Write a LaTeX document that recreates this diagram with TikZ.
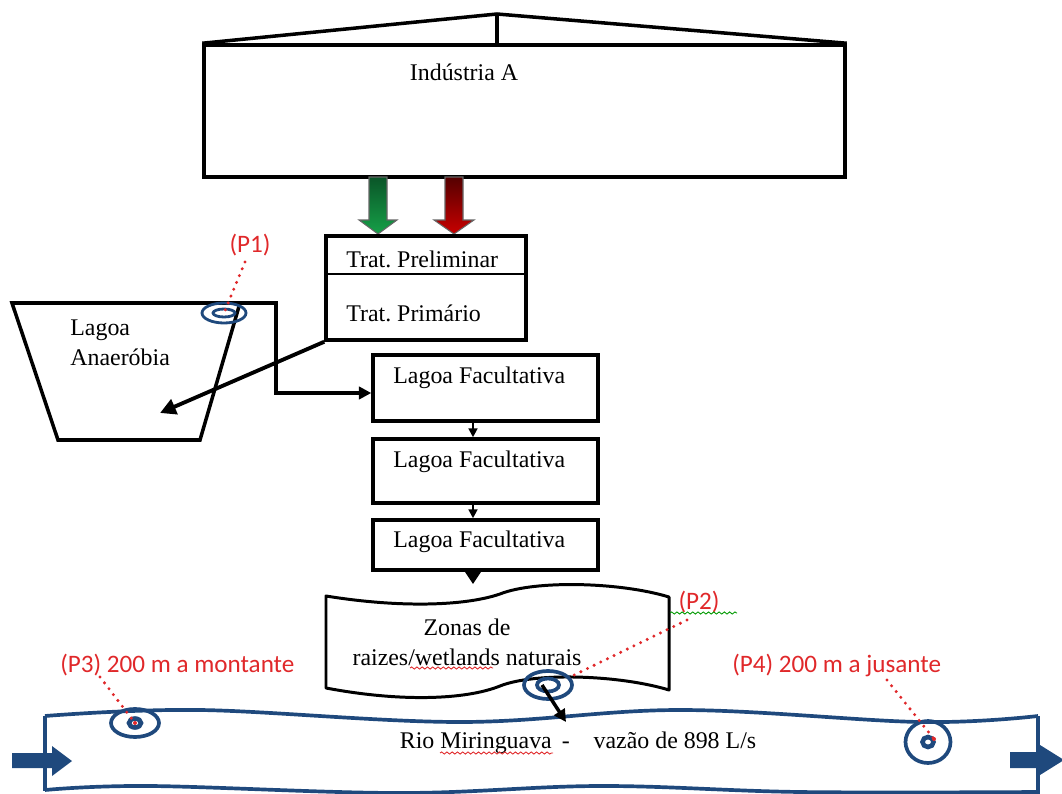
\documentclass[tikz,border=0pt]{standalone}
\usepackage{fontspec}
\setmainfont{Liberation Serif}
\newfontfamily\calib{Carlito}
\usetikzlibrary{shapes.geometric,arrows.meta,decorations.pathmorphing,calc}
\definecolor{rblue}{HTML}{1F497D}
\definecolor{pred}{HTML}{E0282A}
\definecolor{gtop}{RGB}{10,85,40}
\definecolor{gbot}{RGB}{22,160,72}
\definecolor{rtop}{RGB}{85,0,0}
\definecolor{rbot}{RGB}{200,0,0}
\frenchspacing
\begin{document}
\begin{tikzpicture}[x=0.02cm,y=-0.02cm,
  box/.style={draw,line width=2pt,inner sep=0pt,fill=white},
  txt/.style={inner sep=0pt,font=\fontsize{13.6}{17}\selectfont},
  ptxt/.style={inner sep=0pt,text=pred,font=\calib\fontsize{14.3}{17}\selectfont},
  target/.style={draw=rblue,ellipse,line width=2.1pt,inner sep=0pt},
  dotline/.style={pred,line width=1.9pt,dash pattern=on 0pt off 4.2pt,line cap=round},
  squig/.style={decorate,decoration={snake,amplitude=0.6pt,segment length=3pt},line width=0.5pt},
  flow/.style={line width=2pt,-{Triangle[length=7pt,width=7pt]}},
  small/.style={line width=1.1pt,-{Triangle[length=5pt,width=5pt]}}
]
\useasboundingbox (0,0) rectangle (1062,794);

% ---------- river ----------
\draw[rblue,line width=2.1pt] plot[smooth,tension=0.6] coordinates {(45,716) (200,710) (460,722) (680,710) (920,722) (1038,716)};
\draw[rblue,line width=2.1pt] plot[smooth,tension=0.6] coordinates {(45,790) (150,786) (400,793) (600,786) (800,792) (1038,792)};
\draw[rblue,line width=2.1pt] (45,716) -- (45,791);
\draw[rblue,line width=2.1pt] (1038,716) -- (1038,794);
\fill[rblue] (12,753) -- (52,753) -- (52,746) -- (72,761) -- (52,776) -- (52,768) -- (12,768) -- cycle;
\fill[rblue] (1010,752) -- (1040,752) -- (1040,745) -- (1064,760) -- (1040,775) -- (1040,768) -- (1010,768) -- cycle;
\node[txt] (rt) at (578,743) {Rio Miringuava~\,-~~~~vazão de 898 L/s};
\draw[pred,squig] (440,753) -- (553,753);

% ---------- industry ----------
\node[box,minimum width=12.82cm,minimum height=2.64cm] (ind) at (524.5,111) {};
\coordinate (roof) at (497,14);
\draw[line width=2pt,line join=round] (ind.north west) -- (roof) -- (ind.north east);
\draw[line width=2pt] (roof) -- (roof |- ind.north);
\node[txt] (indt) at (464,72) {Indústria A};

% ---------- block arrows ----------
\shade[top color=gtop,bottom color=gbot,draw=black!60,line width=0.6pt]
  (369,177) -- (387,177) -- (387,220) -- (397,220) -- (378,234) -- (359,220) -- (369,220) -- cycle;
\shade[top color=rtop,bottom color=rbot,draw=black!60,line width=0.6pt]
  (445,177) -- (463,177) -- (463,220) -- (474,220) -- (454,234) -- (434,220) -- (445,220) -- cycle;

% ---------- treatment ----------
\node[box,minimum width=4cm,minimum height=2.08cm] (trat) at (426,288) {};
\draw[line width=0.9pt] (326,274) -- (526,274);
\node[txt,anchor=west] (pre) at (346,259) {Trat. Preliminar};
\node[txt,anchor=west] (pri) at (346,313) {Trat. Primário};

% ---------- anaerobic pond ----------
\coordinate (aTL) at (12,303);
\coordinate (aTR) at (240,303);
\coordinate (aBR) at (200,440);
\coordinate (aBL) at (58,440);
\draw[line width=2pt,line join=miter] (aTL) -- (aTR) -- (aBR) -- (aBL) -- cycle;
\node[txt,anchor=west,align=left] (anat) at (70,343) {Lagoa\\Anaeróbia};

% ---------- facultative ponds ----------
\node[box,minimum width=4.5cm,minimum height=1.32cm] (lf1) at (485.5,388) {};
\node[box,minimum width=4.5cm,minimum height=1.28cm] (lf2) at (485.5,471) {};
\node[box,minimum width=4.5cm,minimum height=1.0cm] (lf3) at (485.5,545) {};
\node[txt,anchor=west] (lf1t) at (393,378) {Lagoa Facultativa};
\node[txt,anchor=west] (lf2t) at (393,462) {Lagoa Facultativa};
\node[txt,anchor=west] (lf3t) at (393,542) {Lagoa Facultativa};

\coordinate (lf1in) at ($(lf1.west)+(0,5)$);
\draw[flow] (aTR) -- (276,303) |- (lf1in);
\coordinate (anaIn) at (160,413);
\draw[line width=2.2pt,-{Triangle[length=9pt,width=9pt]}] (trat.south west) -- (anaIn);

\coordinate (ax) at (473,0);
\draw[small] (lf1.south -| ax) -- (lf2.north -| ax);
\draw[small] (lf2.south -| ax) -- (lf3.north -| ax);
\coordinate (wtop) at (473,584);
\draw[line width=1.1pt,-{Triangle[length=7pt,width=9pt]}] (lf3.south -| ax) -- (wtop);

% ---------- wetland ----------
\draw[line width=1.7pt,fill=white,line join=round]
  (326,596) .. controls (400,608) and (465,606) .. (500,594)
  .. controls (535,580) and (620,582) .. (669,597)
  -- (669,690) .. controls (620,675) and (535,672) .. (500,686)
  .. controls (465,700) and (400,702) .. (326,688) -- cycle;
\node[txt,align=center] (wt) at (467,642) {Zonas de\\raizes/wetlands naturais};
\draw[pred,squig] (410,668) -- (493,668);

% ---------- sampling points ----------
\node[target,line width=1.6pt,minimum width=0.88cm,minimum height=0.40cm] (p1o) at (224,313) {};
\node[target,line width=1.6pt,minimum width=0.44cm,minimum height=0.16cm] (p1i) at (224,313) {};
\node[ptxt] (p1) at (250,245) {(P1)};
\coordinate (d1) at (245,262);
\draw[dotline] (d1) -- (p1o.center);

\node[target,minimum width=0.96cm,minimum height=0.56cm] (p2o) at (548,685) {};
\node[target,minimum width=0.44cm,minimum height=0.26cm] (p2i) at (548,685) {};
\node[ptxt] (p2) at (699,602) {(P2)};
\draw[green!60!black,squig] (670,613) -- (737,613);
\coordinate (d2) at (687,620);
\draw[dotline] (d2) -- (p2o.20);
\coordinate (rivin) at (566,722);
\draw[flow] ([shift={(-6,0)}]p2o.center) -- (rivin);

\node[target,minimum width=0.96cm,minimum height=0.56cm] (p3o) at (135,723) {};
\node[target,line width=2.6pt,minimum width=0.24cm,minimum height=0.18cm] (p3i) at (135,723) {};
\node[ptxt,anchor=west] (p3) at (60,665) {(P3) 200 m a montante};
\coordinate (d3) at (100,677);
\draw[dotline] (d3) -- (p3o.center);
\fill[pred] (p3o.center) circle (2);

\node[target,minimum width=0.90cm,minimum height=0.84cm] (p4o) at (928,742) {};
\node[target,line width=2.6pt,minimum width=0.22cm,minimum height=0.2cm] (p4i) at (928,742) {};
\node[ptxt,anchor=west] (p4) at (732,665) {(P4) 200 m a jusante};
\coordinate (d4) at (887,680);
\coordinate (d4e) at (934,739);
\draw[dotline] (d4) -- (d4e);
\fill[pred] (d4e) circle (2);
\end{tikzpicture}
\end{document}
